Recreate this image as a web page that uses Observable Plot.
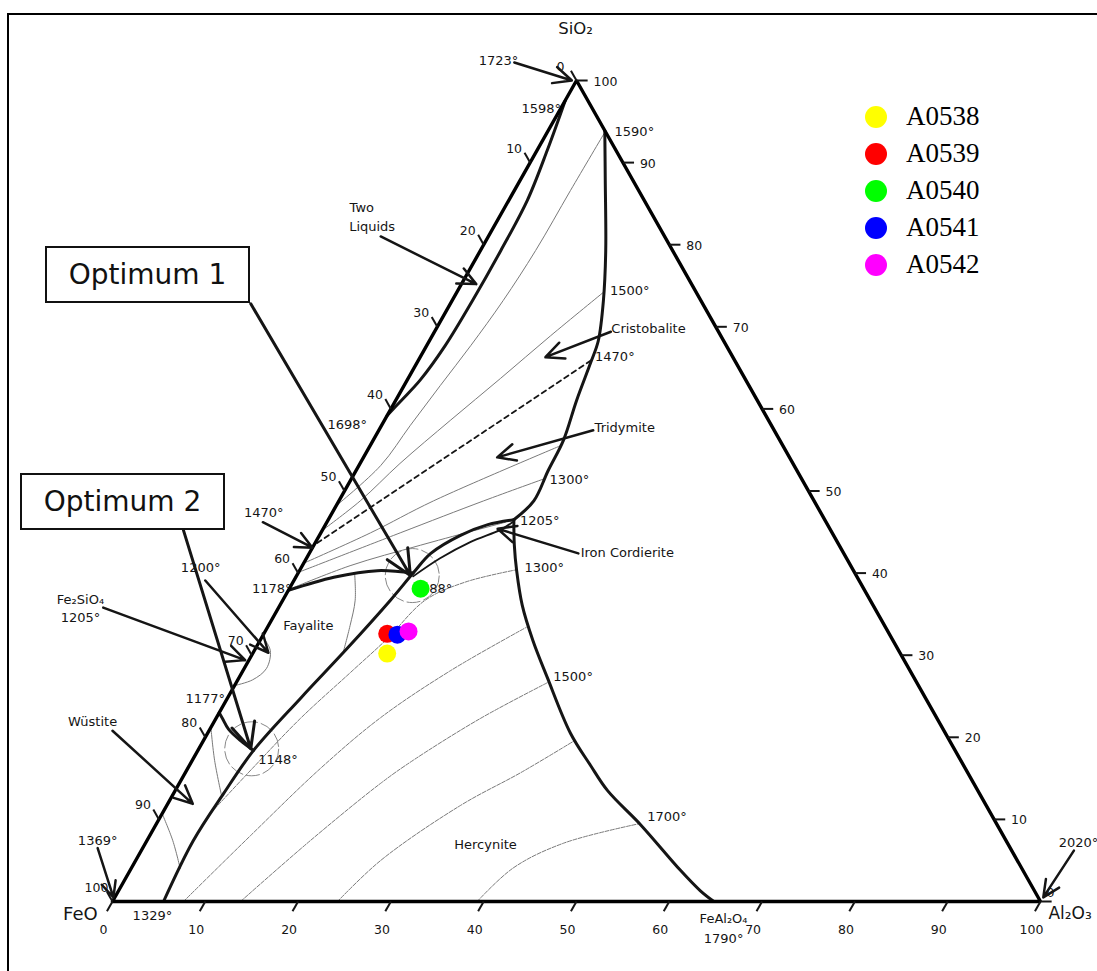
<!DOCTYPE html>
<html><head><meta charset="utf-8">
<script src="https://cdn.jsdelivr.net/npm/d3@7"></script>
<script src="https://cdn.jsdelivr.net/npm/@observablehq/plot@0.6"></script>
<style>
body{margin:0;background:#fff;font-family:"DejaVu Sans",sans-serif}
#wrap{position:relative;width:1097px;height:971px;overflow:hidden;background:#fff}
#wrap svg{position:absolute;left:0;top:0}
#frame{position:absolute;left:7px;top:13px;width:1300px;height:1100px;border-left:2px solid #000;border-top:2px solid #000;pointer-events:none}
.opt{position:absolute;box-sizing:border-box;border:2px solid #111;background:#fff;font-family:"DejaVu Sans",sans-serif;font-size:28px;color:#111;display:flex;align-items:center;justify-content:center;width:205px;height:57px}
#legend{position:absolute;left:865px;top:98px;font-family:"Liberation Serif","Times New Roman",serif;font-size:27px;color:#000}
#legend .row{display:flex;align-items:center;height:37px}
#legend .sw{width:22px;height:22px;border-radius:50%;margin-right:19px}
</style></head>
<body>
<div id="wrap"><div id="frame"></div></div>
<script>
// ---------- data (compositions in wt%: [Al2O3, SiO2]; FeO = rest) ----------
const samples = ["A0538", "A0539", "A0540", "A0541", "A0542"];
const sampleColors = ["#ffff00", "#ff0000", "#00ff00", "#0000ff", "#ff00ff"];
const sampleAl2O3 = [14.5, 13.3, 14.15, 14.45, 15.45];
const sampleSiO2 = [30.2, 32.6, 38.1, 32.5, 32.9];

const tickValues = [0, 10, 20, 30, 40, 50, 60, 70, 80, 90, 100];
const rightTickValues = [10, 20, 30, 40, 50, 60, 70, 80, 90, 100];

const triangle = [[0, 0], [100, 0], [0, 100], [0, 0]];

const boundaries = {
  twoLiquids: [[0, 97.6], [1.1, 91.5], [2.0, 85.4], [2.2, 79.3], [2.2, 73.2], [2.0, 67.7], [1.4, 63.5], [0.6, 61.0], [0, 59.2]],
  silica: [[6.1, 93.9], [9.2, 87.8], [13.5, 79.3], [16.3, 73.2], [18.2, 68.3], [18.7, 65.7], [19.5, 61.0], [20.5, 56.2], [20.7, 52.5], [21.0, 48.8], [20.0, 46.5]],
  hercynite: [[20.0, 46.5], [21.6, 43.4], [23.4, 40.3], [26.1, 36.1], [29.4, 31.8], [33.2, 27.3], [39.1, 20.5], [43.2, 16.6], [46.6, 13.5], [52.3, 9.3], [59.3, 3.8], [62.7, 1.3], [64.8, 0]],
  fayalite: [[5.5, 0], [5.0, 7.4], [5.4, 13.2], [6.0, 18.4], [7.9, 24.8], [9.9, 30.9], [11.6, 36.7], [12.4, 40.0], [13.1, 42.4], [15.2, 44.6], [17.5, 45.9], [20.0, 46.5]],
  fayaliteSilica: [[0, 37.9], [4.1, 39.5], [8.4, 40.3], [12.4, 40.0]],
  wustite: [[0, 23.0], [0.7, 22.3], [2.0, 21.0], [4.0, 19.6], [6.0, 18.4]]
};
const cordierite = [[12.6, 39.6], [14.4, 41.8], [16.7, 43.8], [19.2, 45.3], [20.0, 46.2]];

const silicaIsotherms = {
  s1: [[6.2, 93.5], [6.05, 86.6], [5.95, 79.3], [5.5, 73.2], [4.75, 67.7], [3.9, 62.85], [3.1, 58.0], [2.35, 53.1], [0, 48.2]],
  s2: [[15.8, 74.2], [12.75, 68.9], [9.95, 63.7], [7.1, 58.6], [4.3, 53.35], [2.3, 48.8], [0, 45.2]],
  s3: [[20.5, 55.5], [10.2, 48.8], [5.35, 44.9], [0, 41.2]],
  s4: [[20.8, 51.5], [15.6, 48.8], [8.55, 44.9], [0, 40.1]],
  s5: [[19.25, 46.2], [11.5, 43.4], [5.15, 40.9], [0, 38.0]]
};
const tridymiteCristobalite = [[18.6, 65.9], [0, 43.4]];

const otherIsotherms = {
  f1: [[6.2, 39.8], [7.8, 36.7], [8.8, 33.6], [9.7, 30.3]],
  fLoop: [[0, 32.3], [1.7, 30.6], [2.4, 28.4], [1.6, 27.0], [0, 26.3]],
  w1: [[0, 21.2], [2.4, 17.2], [5.3, 12.9]],
  w2: [[0, 10.7], [2.8, 7.4], [5.3, 4.0]]
};
const hercyniteIsotherms = {
  i1300: [[5.2, 10.8], [7.1, 16.6], [9.1, 22.3], [11.7, 27.9], [13.6, 32.0], [15.35, 36.7], [18.55, 38.9], [23.3, 40.4]],
  i1400: [[7.65, 0], [10.85, 8.0], [14.3, 16.2], [17.7, 22.4], [22.35, 28.1], [27.9, 33.4]],
  i1500: [[13.8, 0], [17.6, 7.4], [21.7, 14.4], [23.8, 17.2], [28.5, 22.3], [33.6, 26.7]],
  i1600: [[24.25, 0], [26.4, 5.0], [31.65, 11.7], [36.15, 15.7], [40.0, 19.6]],
  i1700: [[39.3, 0], [41.15, 4.1], [45.05, 7.1], [52.1, 9.5]]
};
const eutecticLoops = [[12.45, 39.7], [5.7, 18.6]];

// arrows: [tail, tip]
const arrows = [
  [[-7.8, 102.2], [-0.5, 100.0]],
  [[-11.6, 81.0], [1.6, 75.2]],
  [[19.0, 69.4], [13.5, 66.3]],
  [[23.1, 57.4], [14.4, 54.1]],
  [[-6.9, 46.2], [0.0, 43.1]],
  [[29.0, 42.4], [18.8, 45.4]],
  [[-9.55, 39.1], [1.65, 30.3]],
  [[-18.9, 35.8], [-0.4, 29.4]],
  [[-10.4, 20.8], [2.7, 11.9]],
  [[-4.85, 6.5], [-0.15, 0.5]],
  [[100.5, 6.2], [100.05, 0.5]]
];
const optimumArrows = [
  [[-21.5, 72.8], [12.25, 39.7]],
  [[-14.95, 45.2], [5.6, 18.6]]
];

const labelsStart = [
  ["1590°", 7.25, 93.7], ["Two", -16.7, 84.5], ["Liquids", -15.6, 82.2], ["1500°", 16.4, 74.4],
  ["Cristobalite", 18.9, 69.7], ["1470°", 18.8, 66.4], ["Tridymite", 23.1, 57.7], ["1300°", 21.4, 51.4],
  ["1205°", 20.7, 46.4], ["Iron Cordierite", 29.2, 42.5], ["1300°", 24.1, 40.6], ["1088°", 13.3, 38.1],
  ["1500°", 33.8, 27.4], ["1148°", 7.05, 17.3], ["1700°", 52.45, 10.35]
];
const labelsMiddle = [
  ["1723°", -9.6, 102.4], ["1598°", -2.1, 96.6], ["1698°", -3.7, 58.0], ["1470°", -7.4, 47.4],
  ["1200°", -10.8, 40.6], ["Fe₂SiO₄", -21.8, 36.7], ["1205°", -20.75, 34.6], ["Fayalite", 4.3, 33.6],
  ["1177°", -2.35, 24.7], ["Wüstite", -13.1, 21.9], ["1369°", -5.3, 7.4], ["Hercynite", 36.75, 6.9],
  ["2020°", 100.55, 7.1], ["1329°", 5.2, -1.8], ["FeAl₂O₄", 66.9, -2.1], ["1790°", 68.1, -4.5]
];
const labelsEnd = [["1178°", 0.25, 38.1]];
const componentTop = [["SiO₂", -3.25, 106.3]];
const componentLeft = [["FeO", -0.85, -1.5]];
const componentRight = [["Al₂O₃", 101.6, -1.5]];

// ---------- helpers ----------
const X = d => d[0] + d[1] / 2;
const Y = d => d[1];
const rows = obj => Object.entries(obj).flatMap(([k, pts]) => pts.map(p => ({k, a: p[0], s: p[1]})));
const RX = d => d.a + d.s / 2, RY = d => d.s;
const LX = d => d[1] + d[2] / 2, LY = d => d[2], LT = d => d[0];
const L = 1.2;
const ink = "#151515", thin = "#7a7a7a", font = "DejaVu Sans";
const samplesTable = samples.map((n, i) => ({n, c: sampleColors[i], a: sampleAl2O3[i], s: sampleSiO2[i]}));

const chart = Plot.plot({
  width: 1097, height: 971,
  marginLeft: 112, marginRight: 57, marginTop: 80, marginBottom: 70,
  x: {domain: [0, 100], axis: null},
  y: {domain: [0, 100], axis: null},
  style: {fontFamily: font, background: "transparent", overflow: "visible"},
  marks: [
    Plot.line(rows(silicaIsotherms), {x: RX, y: RY, z: "k", stroke: thin, strokeWidth: 1, curve: "catmull-rom"}),
    Plot.line(rows(otherIsotherms), {x: RX, y: RY, z: "k", stroke: thin, strokeWidth: 1, curve: "catmull-rom"}),
    Plot.line(rows(hercyniteIsotherms), {x: RX, y: RY, z: "k", stroke: thin, strokeWidth: 1, strokeDasharray: "4,1.5", curve: "catmull-rom"}),
    Plot.line(tridymiteCristobalite, {x: X, y: Y, stroke: ink, strokeWidth: 1.8, strokeDasharray: "5,4"}),
    Plot.dot(eutecticLoops, {x: X, y: Y, r: 27, stroke: "#888", strokeWidth: 1, fill: "none", strokeDasharray: "14,3"}),
    Plot.line(cordierite, {x: X, y: Y, stroke: ink, strokeWidth: 1.8, curve: "catmull-rom"}),
    Plot.line(rows(boundaries), {x: RX, y: RY, z: "k", stroke: ink, strokeWidth: 3, curve: "catmull-rom"}),
    Plot.line(triangle, {x: X, y: Y, stroke: "#000", strokeWidth: 3.4, strokeLinejoin: "miter"}),
    // ticks
    Plot.link(tickValues, {x1: t => t, y1: 0, x2: t => t - L / 2, y2: -L, stroke: ink, strokeWidth: 2}),
    Plot.link(tickValues, {x1: t => (100 - t) / 2, y1: t => 100 - t, x2: t => (100 - t + L) / 2 - L, y2: t => 100 - t + L, stroke: ink, strokeWidth: 2}),
    Plot.link(tickValues, {x1: t => 100 - t / 2, y1: t => t, x2: t => 100 - t / 2 + L, y2: t => t, stroke: ink, strokeWidth: 2}),
    Plot.text(tickValues, {x: t => t, y: 0, text: t => String(t), dx: -9, dy: 28, fontSize: 12.5, fill: ink}),
    Plot.text(tickValues, {x: t => (100 - t) / 2, y: t => 100 - t, text: t => String(t), dx: -16, dy: -14, fontSize: 12.5, fill: ink}),
    Plot.text(rightTickValues, {x: t => 100 - t / 2, y: t => t, text: t => String(t), dx: 17, dy: 1, textAnchor: "start", fontSize: 12.5, fill: ink}),
    Plot.text([0], {x: 100, y: 0, text: t => String(t), dx: 10, dy: -9, fontSize: 12.5, fill: ink}),
    // arrows
    Plot.arrow(arrows, {x1: d => X(d[0]), y1: d => Y(d[0]), x2: d => X(d[1]), y2: d => Y(d[1]), stroke: ink, strokeWidth: 2.5, headLength: 12, headAngle: 50}),
    Plot.arrow(optimumArrows, {x1: d => X(d[0]), y1: d => Y(d[0]), x2: d => X(d[1]), y2: d => Y(d[1]), stroke: ink, strokeWidth: 3, headLength: 14, headAngle: 50}),
    // labels
    Plot.text(labelsStart, {x: LX, y: LY, text: LT, textAnchor: "start", fontSize: 13, fill: ink}),
    Plot.text(labelsMiddle, {x: LX, y: LY, text: LT, fontSize: 13, fill: ink}),
    Plot.text(labelsEnd, {x: LX, y: LY, text: LT, textAnchor: "end", fontSize: 13, fill: ink}),
    Plot.text(componentTop, {x: LX, y: LY, text: LT, fontSize: 16.5, fill: ink}),
    Plot.text(componentLeft, {x: LX, y: LY, text: LT, textAnchor: "end", fontSize: 18, fill: ink}),
    Plot.text(componentRight, {x: LX, y: LY, text: LT, textAnchor: "start", fontSize: 17, fill: ink}),
    // samples
    Plot.dot(samplesTable, {x: d => d.a + d.s / 2, y: d => d.s, r: 9, fill: d => d.c, stroke: "none"})
  ]
});
const wrap = document.getElementById("wrap");
wrap.appendChild(chart);

// optimum boxes
[["Optimum 1", 45, 246], ["Optimum 2", 20, 473]].forEach(([t, l, tp]) => {
  const b = document.createElement("div");
  b.className = "opt"; b.textContent = t; b.style.left = l + "px"; b.style.top = tp + "px";
  wrap.appendChild(b);
});
// legend
const lg = document.createElement("div"); lg.id = "legend";
samples.forEach((n, i) => {
  const r = document.createElement("div"); r.className = "row";
  const sw = document.createElement("div"); sw.className = "sw"; sw.style.background = sampleColors[i];
  const tx = document.createElement("span"); tx.textContent = n;
  r.appendChild(sw); r.appendChild(tx); lg.appendChild(r);
});
wrap.appendChild(lg);
</script>
</body></html>
